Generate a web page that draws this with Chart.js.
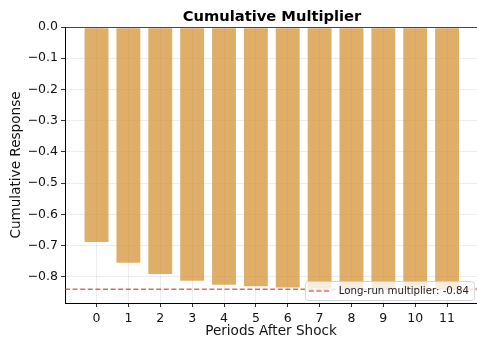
<!DOCTYPE html>
<html>
<head>
<meta charset="utf-8">
<script src="https://cdn.jsdelivr.net/npm/chart.js@4/dist/chart.umd.min.js"></script>
<style>
html,body{margin:0;padding:0;background:#fff;}
#wrap{width:477px;height:340px;position:relative;}
</style>
</head>
<body>
<div id="wrap"><canvas id="c" width="477" height="340"></canvas></div>
<script>
const periods = [0,1,2,3,4,5,6,7,8,9,10,11];
const cumulative = [-0.691,-0.758,-0.794,-0.815,-0.828,-0.833,-0.837,-0.839,-0.840,-0.841,-0.841,-0.841];
const longRun = -0.84;
const yTicks = [0,-0.1,-0.2,-0.3,-0.4,-0.5,-0.6,-0.7,-0.8];
const titleText = 'Cumulative Multiplier';
const xTitle = 'Periods After Shock';
const yTitle = 'Cumulative Response';
const legendText = 'Long-run multiplier: ' + longRun.toFixed(2);

const FONT = "'DejaVu Sans', sans-serif";
const fmt = v => (v < 0 ? '\u2212' : '') + Math.abs(v).toFixed(1);

const overlay = {
  id: 'overlay',
  afterDatasetsDraw(chart) {
    const ctx = chart.ctx, a = chart.chartArea;
    const ys = chart.scales.y;
    ctx.save();
    // zero line
    const y0 = Math.round(ys.getPixelForValue(0)) + 0.5;
    ctx.strokeStyle = 'rgba(0,0,0,0.7)';
    ctx.lineWidth = 1.2;
    ctx.beginPath(); ctx.moveTo(a.left, y0); ctx.lineTo(a.right, y0); ctx.stroke();
    // long-run line
    const yl = ys.getPixelForValue(longRun);
    ctx.strokeStyle = 'rgba(214,39,40,0.7)';
    ctx.lineWidth = 1.5;
    ctx.setLineDash([5, 2.6]);
    ctx.beginPath(); ctx.moveTo(a.left, yl); ctx.lineTo(a.right, yl); ctx.stroke();
    ctx.setLineDash([]);
    // title
    ctx.fillStyle = '#000';
    ctx.font = "bold 14.7px " + FONT;
    ctx.textAlign = 'center'; ctx.textBaseline = 'alphabetic';
    ctx.fillText(titleText, (a.left + 479) / 2, 21);
    // legend
    ctx.font = "10.2px " + FONT;
    const tw = ctx.measureText(legendText).width;
    const w = tw + 39, h = 19;
    const x = a.right - 3 - w, y = a.bottom - 3 - h;
    ctx.fillStyle = 'rgba(255,255,255,0.8)';
    ctx.strokeStyle = 'rgba(204,204,204,0.8)';
    ctx.lineWidth = 1;
    ctx.beginPath();
    ctx.roundRect(x + 0.5, y + 0.5, w, h, 3);
    ctx.fill(); ctx.stroke();
    ctx.strokeStyle = 'rgba(214,39,40,0.7)';
    ctx.lineWidth = 1.5;
    ctx.setLineDash([5, 2.6]);
    ctx.beginPath(); ctx.moveTo(x + 4, y + h / 2 + 0.5); ctx.lineTo(x + 26, y + h / 2 + 0.5); ctx.stroke();
    ctx.setLineDash([]);
    ctx.fillStyle = '#222';
    ctx.textAlign = 'left'; ctx.textBaseline = 'middle';
    ctx.fillText(legendText, x + 34, y + h / 2 + 1);
    ctx.restore();
  }
};

new Chart(document.getElementById('c'), {
  type: 'bar',
  data: {
    datasets: [{
      data: periods.map((p, i) => ({x: p, y: cumulative[i]})),
      backgroundColor: 'rgba(209,139,41,0.7)',
      borderColor: 'rgba(255,255,255,0.35)',
      borderWidth: 0.8,
      borderSkipped: false,
      barPercentage: 0.8,
      categoryPercentage: 1.0
    }]
  },
  options: {
    responsive: false,
    animation: false,
    layout: {padding: {top: 27, left: 8, right: 0, bottom: 0}},
    plugins: {legend: {display: false}, tooltip: {enabled: false}, title: {display: false}},
    scales: {
      x: {
        type: 'linear',
        offset: false,
        min: -0.99, max: 11.94,
        afterBuildTicks: s => { s.ticks = periods.map(v => ({value: v})); },
        afterFit: s => { s.height = 37; },
        ticks: {font: {family: FONT, size: 12.5}, color: '#111', padding: 4, maxRotation: 0, autoSkip: false, callback: v => String(v)},
        grid: {offset: false, color: 'rgba(0,0,0,0.09)', lineWidth: 0.8, tickLength: 4, tickColor: '#000', drawTicks: true},
        border: {display: true, color: '#000', width: 1},
        title: {display: true, text: xTitle, font: {family: FONT, size: 13.6}, color: '#111', padding: {top: 1, bottom: 0}}
      },
      y: {
        min: -0.884, max: 0,
        afterBuildTicks: s => { s.ticks = yTicks.map(v => ({value: v})); },
        afterFit: s => { s.width = 57; },
        ticks: {font: {family: FONT, size: 12.5}, color: '#111', padding: 3, callback: v => fmt(v)},
        grid: {color: 'rgba(0,0,0,0.09)', lineWidth: 0.8, tickLength: 4, tickColor: '#000'},
        border: {display: true, color: '#000', width: 1},
        title: {display: true, text: yTitle, font: {family: FONT, size: 13.6}, color: '#111', padding: {top: 0, bottom: 2}}
      }
    }
  },
  plugins: [overlay]
});
</script>
</body>
</html>
